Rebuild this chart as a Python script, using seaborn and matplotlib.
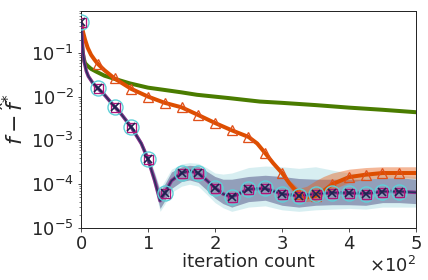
import matplotlib

matplotlib.use("Agg")

import matplotlib.pyplot as plt
import numpy as np
import pandas as pd
import seaborn as sns

# main group (mean curve + spread of runs)
main_x = [0, 1, 2, 3, 5, 8, 11, 18, 25, 35, 50, 60, 75, 90, 100, 110, 118, 125, 135, 150,
          162, 175, 187, 200, 212, 225, 250, 275, 300, 325, 350, 375, 400, 425, 450, 475, 500]
main_y = [0.5, 0.3, 0.17, 0.1, 0.06, 0.038, 0.029, 0.02, 0.0155, 0.011, 0.0059, 0.004, 0.002,
          0.00085, 3.7e-4, 1.2e-4, 4.2e-5, 6.3e-5, 1.2e-4, 1.8e-4, 2.0e-4, 1.8e-4, 1.25e-4,
          8.3e-5, 6e-5, 5.1e-5, 7.7e-5, 8e-5, 6e-5, 5.4e-5, 6e-5, 6.4e-5, 6.3e-5, 6.1e-5,
          6.8e-5, 6.8e-5, 6.5e-5]
main_lo = [0.45, 0.26, 0.15, 0.088, 0.053, 0.034, 0.026, 0.018, 0.014, 0.0099, 0.0053, 0.0036,
           0.0018, 0.00074, 3.1e-4, 9e-5, 2.8e-5, 4.2e-5, 8e-5, 1.15e-4, 1.25e-4, 1.1e-4, 7.5e-5,
           4.8e-5, 3.6e-5, 3e-5, 4e-5, 4.3e-5, 3.3e-5, 3e-5, 3.3e-5, 3.4e-5, 3.4e-5, 3.3e-5,
           3.8e-5, 3.8e-5, 3.6e-5]
main_hi = [0.55, 0.34, 0.19, 0.115, 0.068, 0.043, 0.033, 0.022, 0.017, 0.0122, 0.0066, 0.0045,
           0.0023, 0.00098, 4.5e-4, 1.7e-4, 7e-5, 1e-4, 1.9e-4, 2.5e-4, 2.7e-4, 2.6e-4, 2.0e-4,
           1.5e-4, 1.3e-4, 1.3e-4, 1.5e-4, 1.6e-4, 1.5e-4, 1.35e-4, 1.3e-4, 1.3e-4, 1.3e-4,
           1.3e-4, 1.4e-4, 1.4e-4, 1.3e-4]
main_lo_out = [0.44, 0.25, 0.14, 0.085, 0.05, 0.032, 0.025, 0.017, 0.0135, 0.0095, 0.005, 0.0034,
               0.0017, 0.0007, 2.9e-4, 8e-5, 2.4e-5, 3.5e-5, 6.5e-5, 9e-5, 1e-4, 9e-5, 6e-5,
               3.8e-5, 2.9e-5, 2.4e-5, 3e-5, 3.2e-5, 2.6e-5, 2.4e-5, 2.6e-5, 2.7e-5, 2.8e-5,
               2.7e-5, 3e-5, 3e-5, 3e-5]
main_hi_out = [0.56, 0.35, 0.2, 0.12, 0.07, 0.045, 0.034, 0.023, 0.0175, 0.0125, 0.0068, 0.0047,
               0.0024, 0.001, 4.8e-4, 1.9e-4, 8e-5, 1.2e-4, 2.2e-4, 2.9e-4, 3.1e-4, 3e-4, 2.4e-4,
               1.8e-4, 1.7e-4, 1.8e-4, 2.4e-4, 2.6e-4, 2.5e-4, 2.3e-4, 2.5e-4, 2.1e-4, 1.8e-4,
               1.7e-4, 1.7e-4, 1.6e-4, 1.5e-4]

# orange method
orange_x = [0, 3, 6, 10, 15, 20, 25, 35, 50, 75, 100, 125, 150, 175, 200, 225, 250, 263, 275,
            287, 300, 312, 325, 337, 350, 362, 375, 400, 425, 450, 475, 500]
orange_y = [0.5, 0.3, 0.2, 0.13, 0.09, 0.07, 0.056, 0.04, 0.026, 0.015, 0.01, 0.0072, 0.0057,
            0.0038, 0.0025, 0.0017, 0.0012, 8.5e-4, 5.1e-4, 3.0e-4, 1.8e-4, 1.0e-4, 6e-5, 5e-5,
            5.4e-5, 7e-5, 1.0e-4, 1.45e-4, 1.65e-4, 1.8e-4, 1.8e-4, 1.8e-4]
orange_band_x = [312, 325, 337, 350, 362, 375, 400, 425, 450, 475, 500]
orange_lo = [8e-5, 4.5e-5, 4e-5, 4.3e-5, 5.5e-5, 7.5e-5, 1.1e-4, 1.3e-4, 1.4e-4, 1.4e-4, 1.35e-4]
orange_hi = [1.2e-4, 8e-5, 9e-5, 1.2e-4, 1.5e-4, 1.8e-4, 2.2e-4, 2.4e-4, 2.5e-4, 2.5e-4, 2.5e-4]

# green method
green_x = [0, 1, 2, 4, 6, 10, 15, 23, 35, 48, 73, 100, 123, 150, 173, 222, 267, 300, 350, 400, 450, 500]
green_y = [0.5, 0.2, 0.12, 0.075, 0.058, 0.05, 0.043, 0.037, 0.030, 0.026, 0.020, 0.016, 0.0143,
           0.0125, 0.011, 0.0092, 0.0077, 0.0072, 0.0064, 0.0056, 0.005, 0.0044]

marker_step = 25

sns.set_style("ticks")
plt.rcParams["font.family"] = ["DejaVu Sans"]

fig = plt.figure(figsize=(428 / 72, 280 / 72), dpi=72)
ax = fig.add_axes([81 / 428, 1 - 228 / 280, 335 / 428, 217 / 280])

ax.fill_between(main_x, main_lo_out, main_hi_out, color="#8fd0d8", alpha=0.35, lw=0, zorder=1)
ax.fill_between(main_x, main_lo, main_hi, color="#5a5f8e", alpha=0.55, lw=0, zorder=1.5)

sns.lineplot(x=green_x, y=green_y, color="#4a7c00", lw=4, ax=ax, zorder=2)
ax.fill_between(orange_band_x, orange_lo, orange_hi, color="#e8601c", alpha=0.45, lw=0, zorder=2.5)
sns.lineplot(x=orange_x, y=orange_y, color="#dd4e00", lw=4, ax=ax, zorder=3)
sns.lineplot(x=main_x, y=main_y, color="#8a2e8a", lw=3.5, ax=ax, zorder=4)
sns.lineplot(x=main_x, y=main_y, color="#25335e", lw=1.5, ax=ax, zorder=4.5)

main_df = pd.DataFrame({"x": main_x, "y": main_y})
mk = main_df[main_df["x"] % marker_step == 0]
mk = mk[mk["x"] < 500]
orange_df = pd.DataFrame({"x": orange_x, "y": orange_y})
ok = orange_df[(orange_df["x"] % marker_step == 0) & (orange_df["x"] > 0) & (orange_df["x"] < 500)]

ax.plot(ok["x"], ok["y"], ls="none", marker="^", ms=10, mfc="none", mec="#e0501a", mew=1.3, zorder=5)
ax.plot(mk["x"], mk["y"], ls="none", marker="o", ms=15, mfc="none", mec="#5ed0d8", mew=1.4, zorder=6)
ax.plot(mk["x"], mk["y"], ls="none", marker="s", ms=9, mfc="none", mec="#b01478", mew=1.3, zorder=6)
ax.plot(mk["x"], mk["y"], ls="none", marker="x", ms=8, mec="#1c2550", mew=1.6, zorder=7)

ax.set_yscale("log")
ax.set_ylim(1e-5, 0.9)
ax.set_xlim(0, 500)
ax.set_xticks(np.arange(0, 501, 100))
ax.ticklabel_format(axis="x", style="sci", scilimits=(2, 2), useMathText=True)
ax.xaxis.get_offset_text().set_fontsize(18)
ax.tick_params(labelsize=18)
ax.set_xlabel("iteration count", fontsize=18, labelpad=0)
ax.set_ylabel(r"$f - \hat{f}^{*}$", fontsize=22, labelpad=4)
for s in ax.spines.values():
    s.set_linewidth(1.0)

fig.savefig("out.png", dpi=72)
plt.close(fig)
